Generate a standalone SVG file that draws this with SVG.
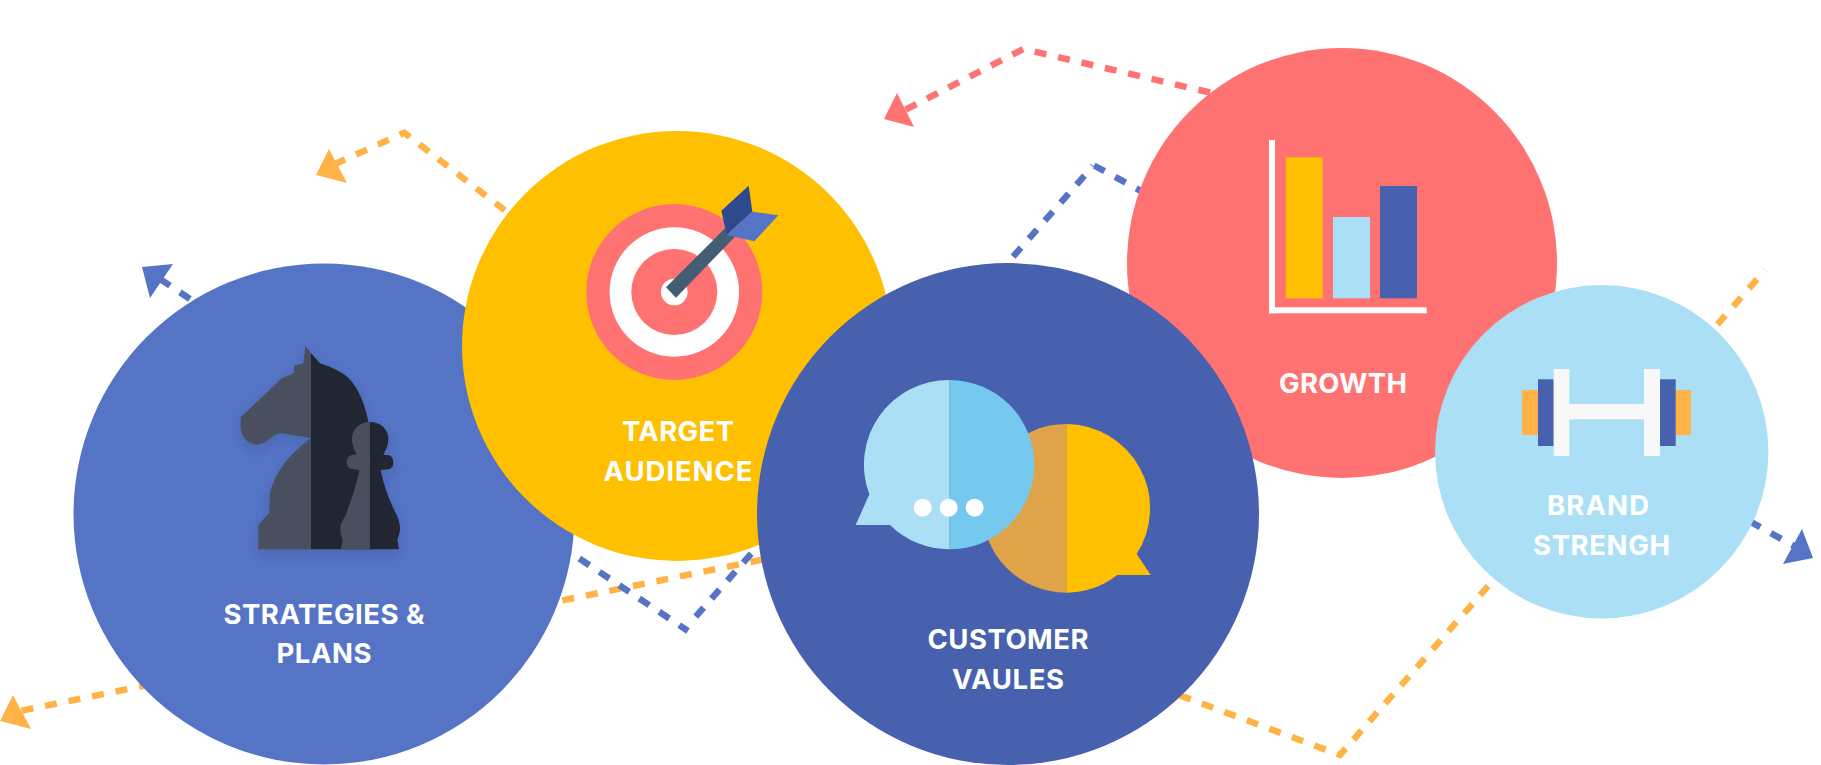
<svg xmlns="http://www.w3.org/2000/svg" width="1821" height="765" viewBox="0 0 1821 765">
<style>
.lbl{font-family:"Inter","Liberation Sans",sans-serif;font-weight:700;font-size:27.5px;fill:#fff;text-anchor:middle}
.dk{fill:#212530}.md{fill:#494f5f}
.o{stroke:#ffb347;fill:none;stroke-width:6.5;stroke-dasharray:12 12}
.b{stroke:#5574c6;fill:none;stroke-width:6.5;stroke-dasharray:12 12}
.c{stroke:#ff7272;fill:none;stroke-width:6.5;stroke-dasharray:12 12}
</style>
<defs>
<filter id="sh" x="-20%" y="-20%" width="140%" height="140%"><feDropShadow dx="0" dy="16" stdDeviation="18" flood-color="#1a2340" flood-opacity=".16"/></filter>
</defs>
<rect width="1821" height="765" fill="#fff"/>
<g id="connectors">
<path class="o" d="M504.8,210.3L404.3,132.7L335,164"/>
<path class="o" d="M21.5,710.7L785,555M1179.4,695.2L1340,755L1765.1,270"/>
<path class="c" d="M1210,92.5L1023.5,49L905,110"/>
<path class="b" d="M160,279L688,631M695.7,616.7L1093,166M1094,165.5L1750,521.4M1749.8,521.4L1796,547"/>
<polygon fill="#ffb347" points="329,149 316,175 347,183"/>
<polygon fill="#ffb347" points="13,695 0,721 31,729"/>
<polygon fill="#ff7272" points="897,93 884,119 914,127"/>
<polygon fill="#5574c6" points="173,264 142,267 150,298"/>
<polygon fill="#5574c6" points="1802,529 1813,558 1783,564"/>
</g>
<g id="strategies">
<circle cx="324" cy="514" r="250.5" fill="#5574c6"/>
<g transform="translate(220,320) scale(.33333)" filter="url(#sh)">
<path class="md" d="M273,100L256,78L250,130L222,138L222,160L185,175L170,190L62,292L62,325Q70,372 112,374Q130,374 155,352Q170,340 185,340L273,354Q170,430 150,520L148,578L115,615L115,688L273,688Z"/>
<path class="dk" d="M273,100L300,130Q345,145 375,165Q425,205 445,305L460,688L273,688Z"/>
<path class="md" d="M450,306C415,306 396,330 396,357C396,375 402,388 410,403L395,405C375,410 375,445 395,447L418,450C410,490 395,540 375,590C365,605 358,615 362,640L368,662L362,688L450,688Z"/>
<path class="dk" d="M450,306C485,306 505,330 505,357C505,375 498,388 490,405L505,405C525,410 525,445 505,448L482,450C490,490 505,535 525,575L530,585C540,605 542,625 538,640L532,660L537,688L450,688Z"/>
</g>
<text class="lbl" x="324" y="624" textLength="201" lengthAdjust="spacing">STRATEGIES &amp;</text>
<text class="lbl" x="324" y="663" textLength="95" lengthAdjust="spacing">PLANS</text>
</g>
<g id="target">
<circle cx="677" cy="346" r="215" fill="#fec000"/>
<circle cx="674.3" cy="292" r="88" fill="#ff7272"/>
<circle cx="674.3" cy="292" r="64.7" fill="#fff"/>
<circle cx="674.3" cy="292" r="43" fill="#ff7272"/>
<circle cx="674.3" cy="292" r="13.3" fill="#fff"/>
<g transform="translate(560,160) scale(.33333)">
<polygon fill="#435e72" points="318,382 495,205 525,230 348,413"/>
<polygon fill="#2e4a8e" points="484,152 566,77 577,155 500,225"/>
<polygon fill="#5574c6" points="577,155 655,166 583,244 500,225"/>
</g>
<text class="lbl" x="678" y="441" textLength="112" lengthAdjust="spacing">TARGET</text>
<text class="lbl" x="678" y="481" textLength="149" lengthAdjust="spacing">AUDIENCE</text>
</g>
<g id="growth">
<circle cx="1342" cy="263" r="215" fill="#ff7272"/>
<rect x="1269" y="140" width="6" height="173.3" fill="#fff"/>
<rect x="1269" y="307.3" width="157.7" height="6" fill="#fff"/>
<rect x="1285.7" y="157.3" width="37" height="141" fill="#fec000"/>
<rect x="1333" y="217" width="37" height="81.3" fill="#abdff5"/>
<rect x="1380" y="186" width="37" height="112.3" fill="#4761ae"/>
<text class="lbl" x="1343" y="393" textLength="128" lengthAdjust="spacing">GROWTH</text>
</g>
<g id="customer">
<circle cx="1008" cy="514" r="251" fill="#4761ae"/>
<g transform="translate(840,360) scale(.33333)">
<path fill="#dfa44a" d="M679,192A253,253 0 0 0 679,698Z"/>
<path fill="#fec000" d="M679,192A253,253 0 0 1 890,582L932,645L832,645A253,253 0 0 1 679,698Z"/>
<path fill="#abdff5" d="M329,60A254,254 0 0 0 88,403L47,495L150,495A254,254 0 0 0 329,568Z"/>
<path fill="#75c9ef" d="M329,60A254,254 0 0 1 329,568Z"/>
<circle cx="248" cy="443" r="27" fill="#fff"/>
<circle cx="326" cy="443" r="27" fill="#fff"/>
<circle cx="404" cy="443" r="27" fill="#fff"/>
</g>
<text class="lbl" x="1008" y="649" textLength="161" lengthAdjust="spacing">CUSTOMER</text>
<text class="lbl" x="1008" y="689" textLength="112" lengthAdjust="spacing">VAULES</text>
</g>
<g id="brand">
<circle cx="1601.7" cy="451.7" r="166.7" fill="#abdff5"/>
<rect x="1522" y="390" width="16" height="45" fill="#ffb347"/>
<rect x="1675.7" y="390" width="15.3" height="45" fill="#ffb347"/>
<rect x="1538" y="379.3" width="15.7" height="66.7" fill="#4761ae"/>
<rect x="1660" y="379.3" width="15.7" height="66.7" fill="#4761ae"/>
<rect x="1553.7" y="369" width="15.6" height="87" fill="#f8f8f8"/>
<rect x="1644" y="369" width="16" height="87" fill="#f8f8f8"/>
<rect x="1569" y="404" width="75" height="15.3" fill="#f8f8f8"/>
<text class="lbl" x="1598" y="515" textLength="102" lengthAdjust="spacing">BRAND</text>
<text class="lbl" x="1601.5" y="555" textLength="137" lengthAdjust="spacing">STRENGH</text>
</g>
</svg>
